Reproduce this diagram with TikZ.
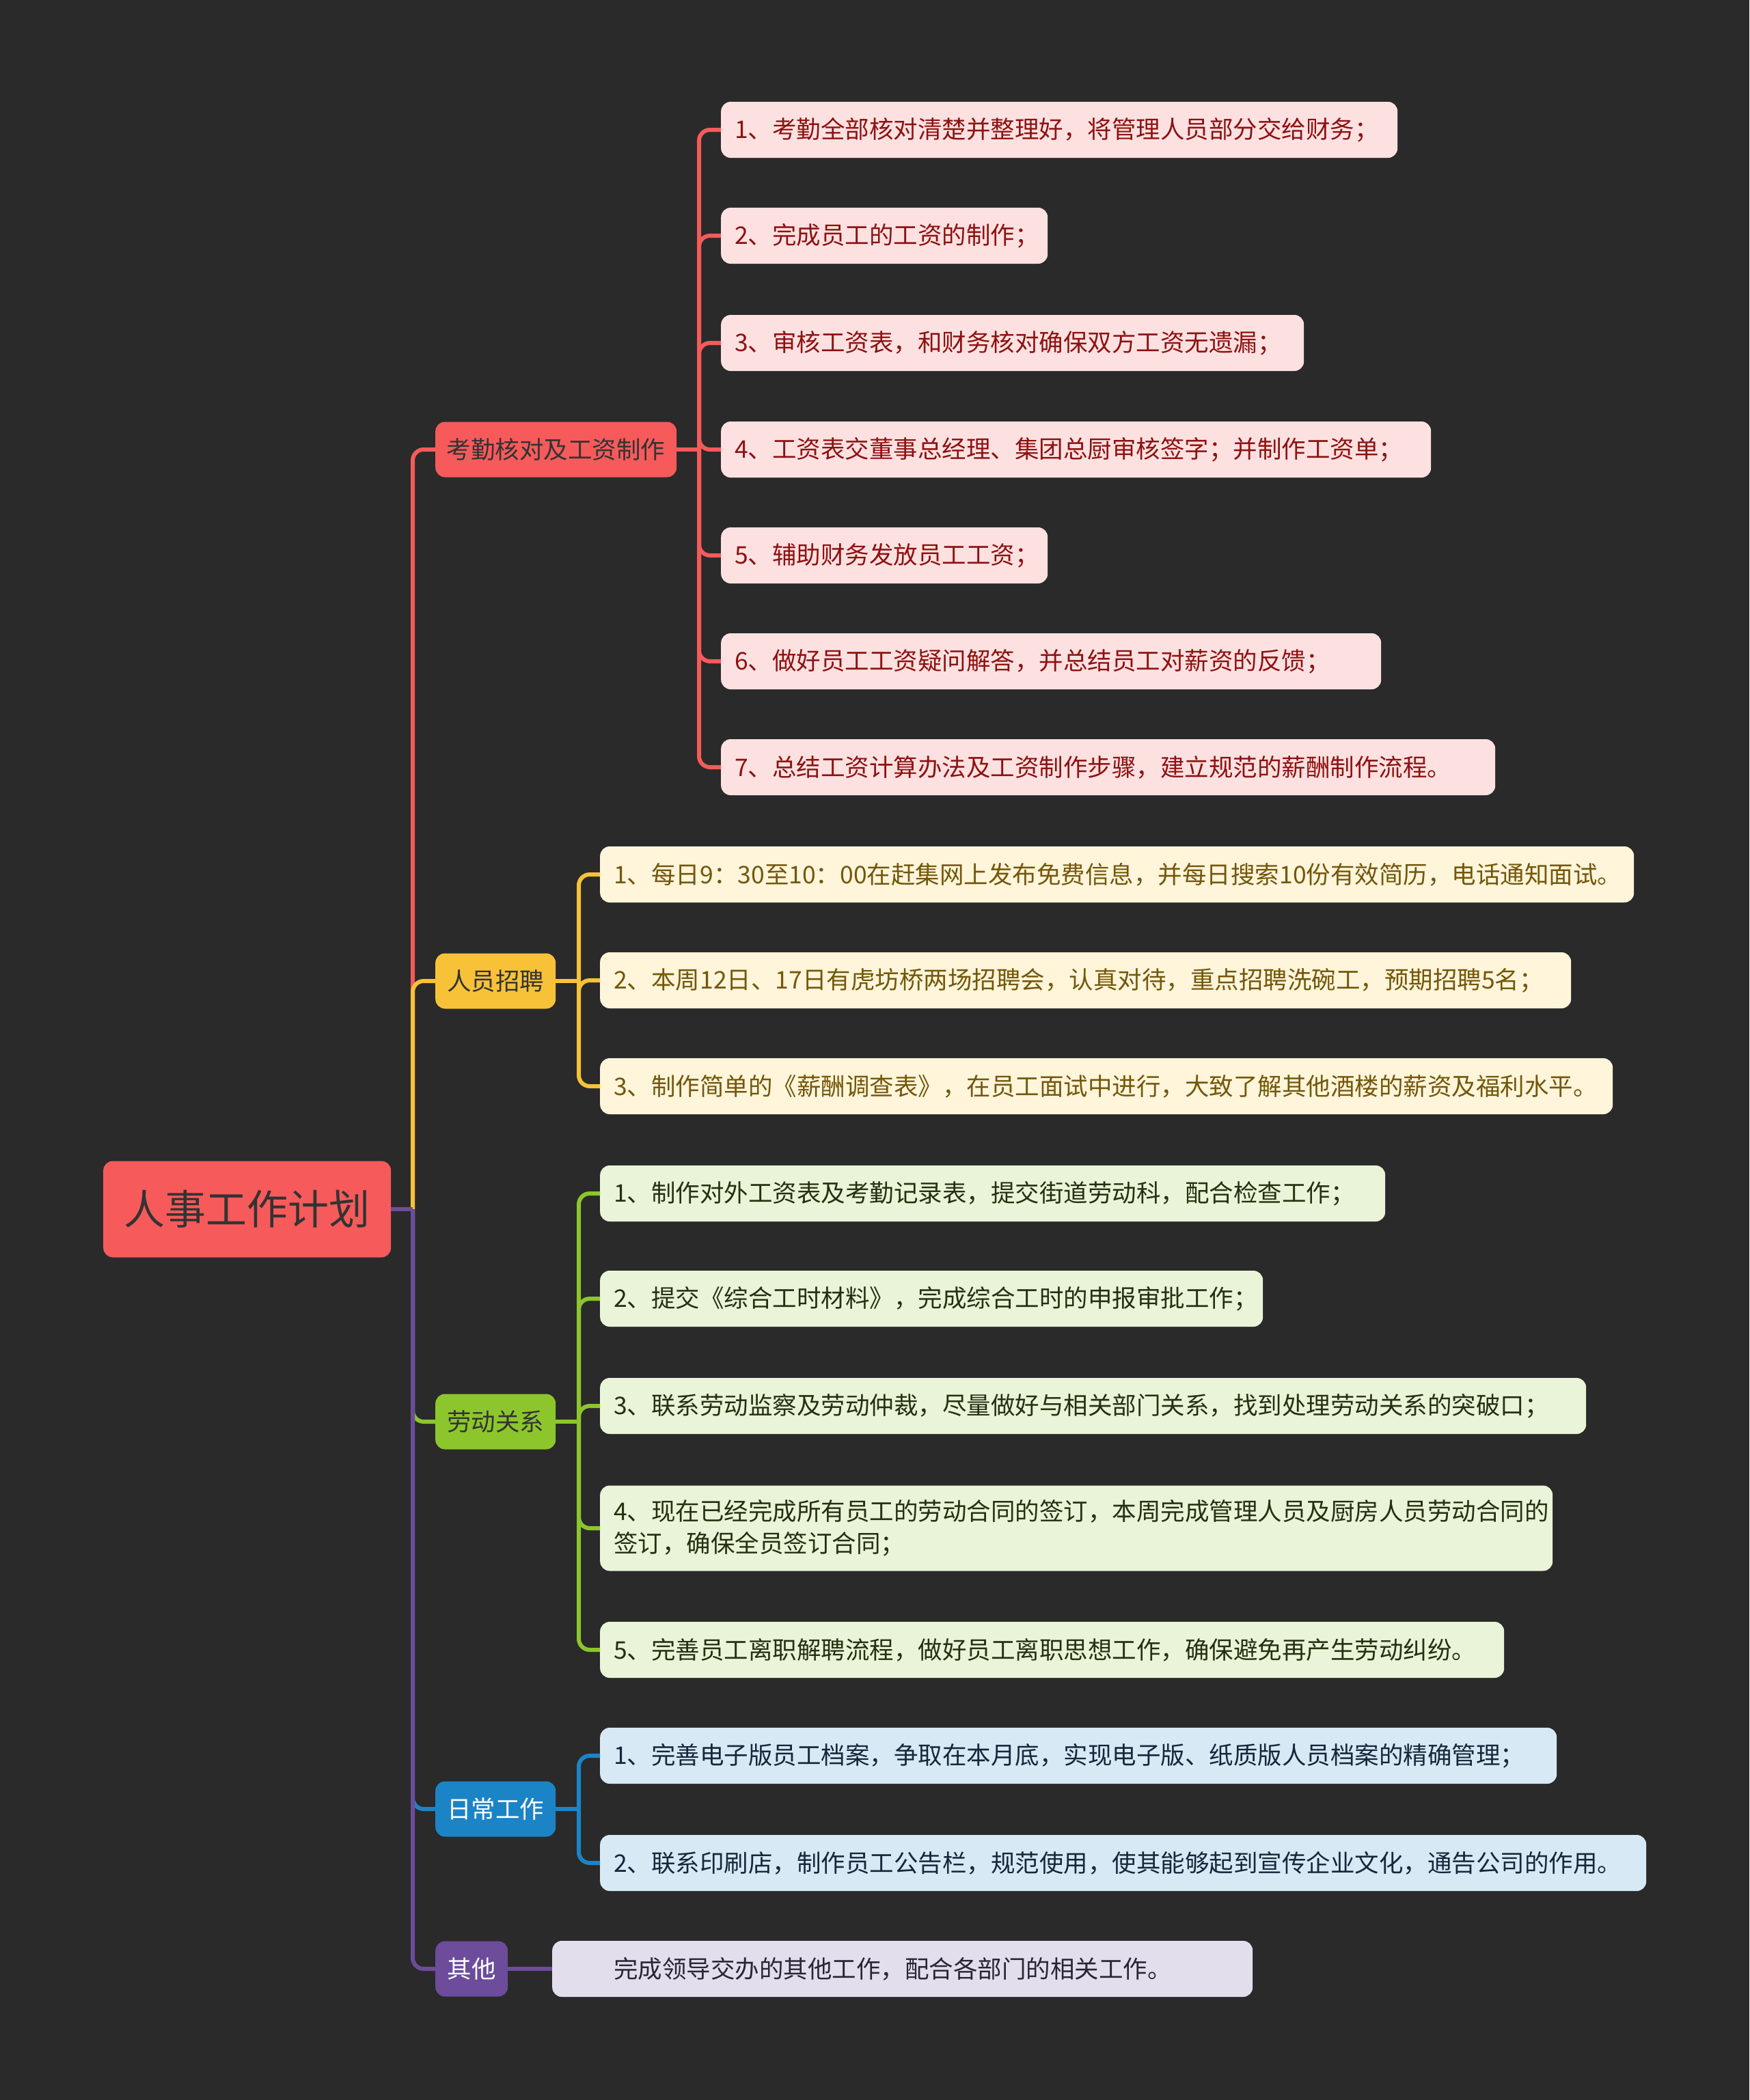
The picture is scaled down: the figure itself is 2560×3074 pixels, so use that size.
\documentclass[tikz,border=0pt]{standalone}
\usepackage{fontspec}
\setmainfont{Noto Sans CJK SC}
\usetikzlibrary{calc}
\definecolor{bg}{HTML}{2A2A2A}
\definecolor{cR}{HTML}{F65A5B}
\definecolor{cRl}{HTML}{FDE1E1}
\definecolor{cRt}{HTML}{8E1111}
\definecolor{cY}{HTML}{F8C238}
\definecolor{cYl}{HTML}{FEF5DB}
\definecolor{cYt}{HTML}{73570A}
\definecolor{cG}{HTML}{8CC62C}
\definecolor{cGl}{HTML}{E9F4D8}
\definecolor{cGt}{HTML}{263010}
\definecolor{cB}{HTML}{1B84C7}
\definecolor{cBl}{HTML}{D7E9F5}
\definecolor{cBt}{HTML}{14283A}
\definecolor{cP}{HTML}{6C4C9B}
\definecolor{cPl}{HTML}{E3DEEC}
\definecolor{cPt}{HTML}{2A2535}
\definecolor{cDark}{HTML}{333333}
\begin{document}
\begin{tikzpicture}[x=1pt,y=-1pt,
  rootbox/.style={rounded corners=14, anchor=west, minimum width=421, minimum height=141, inner sep=0, fill=cR, text=cDark, font=\fontsize{60}{70}\selectfont},
  branchbox/.style={rounded corners=14, anchor=west, minimum height=81, inner xsep=0, inner ysep=0, font=\fontsize{35.5}{42}\selectfont},
  leafbox/.style={rounded corners=14, anchor=west, minimum height=82, inner xsep=20, inner ysep=0, align=left, font=\fontsize{35.5}{47}\selectfont},
  rleaf/.style={leafbox, fill=cRl, text=cRt},
  yleaf/.style={leafbox, fill=cYl, text=cYt},
  gleaf/.style={leafbox, fill=cGl, text=cGt},
  bleaf/.style={leafbox, fill=cBl, text=cBt},
  pleaf/.style={leafbox, fill=cPl, text=cPt},
  conn/.style={line width=6, rounded corners=16}
]
\useasboundingbox (0,0) rectangle (2560,3074);
\fill[bg] (0,0) rectangle (2560,3074);

% root and branches
\node[rootbox] (root) at (151,1770) {人事工作计划};
\node[branchbox, minimum width=353, fill=cR, text=cDark] (b1) at (637,658) {考勤核对及工资制作};
\node[branchbox, minimum width=176, fill=cY, text=cDark] (b2) at (637,1436) {人员招聘};
\node[branchbox, minimum width=176, fill=cG, text=cDark] (b3) at (637,2081) {劳动关系};
\node[branchbox, minimum width=176, fill=cB, text=white] (b4) at (637,2648) {日常工作};
\node[branchbox, minimum width=106, fill=cP, text=white] (b5) at (637,2882) {其他};

% red leaves
\node[rleaf, text width=950] (r1) at (1055,190) {1、考勤全部核对清楚并整理好，将管理人员部分交给财务；};
\node[rleaf, text width=438] (r2) at (1055,345) {2、完成员工的工资的制作；};
\node[rleaf, text width=813] (r3) at (1055,502) {3、审核工资表，和财务核对确保双方工资无遗漏；};
\node[rleaf, text width=999] (r4) at (1055,658) {4、工资表交董事总经理、集团总厨审核签字；并制作工资单；};
\node[rleaf, text width=438] (r5) at (1055,813) {5、辅助财务发放员工工资；};
\node[rleaf, text width=926] (r6) at (1055,968) {6、做好员工工资疑问解答，并总结员工对薪资的反馈；};
\node[rleaf, text width=1093] (r7) at (1055,1123) {7、总结工资计算办法及工资制作步骤，建立规范的薪酬制作流程。};

% yellow leaves
\node[yleaf, text width=1473] (y1) at (878,1280) {1、每日9：30至10：00在赶集网上发布免费信息，并每日搜索10份有效简历，电话通知面试。};
\node[yleaf, text width=1381] (y2) at (878,1435) {2、本周12日、17日有虎坊桥两场招聘会，认真对待，重点招聘洗碗工，预期招聘5名；};
\node[yleaf, text width=1442] (y3) at (878,1590) {3、制作简单的《薪酬调查表》，在员工面试中进行，大致了解其他酒楼的薪资及福利水平。};

% green leaves
\node[gleaf, text width=1109] (g1) at (878,1747) {1、制作对外工资表及考勤记录表，提交街道劳动科，配合检查工作；};
\node[gleaf, text width=930] (g2) at (878,1901) {2、提交《综合工时材料》，完成综合工时的申报审批工作；};
\node[gleaf, text width=1403] (g3) at (878,2058) {3、联系劳动监察及劳动仲裁，尽量做好与相关部门关系，找到处理劳动关系的突破口；};
\node[gleaf, text width=1354, minimum height=125] (g4) at (878,2237) {4、现在已经完成所有员工的劳动合同的签订，本周完成管理人员及厨房人员劳动合同的\\签订，确保全员签订合同；};
\node[gleaf, text width=1283] (g5) at (878,2415) {5、完善员工离职解聘流程，做好员工离职思想工作，确保避免再产生劳动纠纷。};

% blue leaves
\node[bleaf, text width=1360] (u1) at (878,2570) {1、完善电子版员工档案，争取在本月底，实现电子版、纸质版人员档案的精确管理；};
\node[bleaf, text width=1491] (u2) at (878,2727) {2、联系印刷店，制作员工公告栏，规范使用，使其能够起到宣传企业文化，通告公司的作用。};

% purple leaf
\node[pleaf, inner xsep=90, text width=845] (p1) at (808,2882) {完成领导交办的其他工作，配合各部门的相关工作。};

% root connectors
\coordinate (rj) at (604,1770);
\draw[conn, cR] (rj) |- (b1.west);
\draw[conn, cY] (rj) |- (b2.west);
\draw[conn, cG] (rj) |- (b3.west);
\draw[conn, cB] (rj) |- (b4.west);
\draw[conn, cP] (rj) |- (b5.west);
\draw[conn, cP] (root.east) -- (rj);

% red connectors
\coordinate (j1) at (1023,658);
\draw[conn, cR] (b1.east) -- (j1);
\foreach \l in {r1,r2,r3,r4,r5,r6,r7} \draw[conn, cR] (j1) |- (\l.west);

% yellow connectors
\coordinate (j2) at (847,1436);
\draw[conn, cY] (b2.east) -- (j2);
\foreach \l in {y1,y2,y3} \draw[conn, cY] (j2) |- (\l.west);

% green connectors
\coordinate (j3) at (847,2081);
\draw[conn, cG] (b3.east) -- (j3);
\foreach \l in {g1,g2,g3,g4,g5} \draw[conn, cG] (j3) |- (\l.west);

% blue connectors
\coordinate (j4) at (847,2648);
\draw[conn, cB] (b4.east) -- (j4);
\foreach \l in {u1,u2} \draw[conn, cB] (j4) |- (\l.west);

% purple connector
\draw[conn, cP] (b5.east) -- (p1.west);
\end{tikzpicture}
\end{document}
